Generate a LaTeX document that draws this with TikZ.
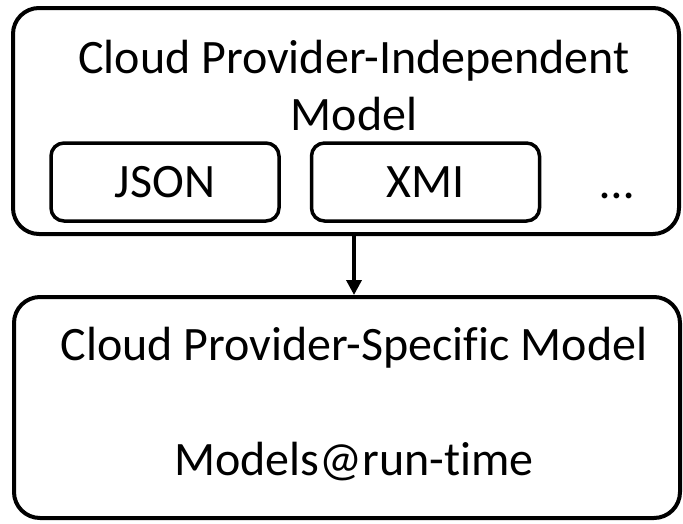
\documentclass[tikz,border=0pt]{standalone}
\usepackage{fontspec}
\setmainfont{Carlito}[Ligatures=NoCommon]
\usetikzlibrary{arrows.meta,positioning}
\tikzset{
    model/.style={
        rectangle,
        rounded corners=26pt,
        line width=4pt,
        draw=black,
        minimum width=666pt,
    },
    format/.style={
        rectangle,
        rounded corners=13pt,
        line width=3.5pt,
        draw=black,
        minimum width=228pt,
        minimum height=78pt,
    },
    label/.style={
        inner sep=0pt,
        anchor=base,
    },
}

\begin{document}
\begin{tikzpicture}[x=1pt,y=-1pt,font=\fontsize{48}{57}\selectfont,>={Triangle[length=15pt,width=15pt]}]
    \useasboundingbox (0,0) rectangle (683,523);
    % the two models
    \node [model,minimum height=226pt] (PIM) at (346,121) {};
    \node [model,minimum height=221pt] (PSM) at (347,407.5) {};
    % texts of the independent model
    \node [label,align=center] (PIMtitle) at (354,130) {Cloud Provider-Independent\\Model};
    \node [format] (JSON) at (165,182) {JSON};
    \node [format] (XMI) [right=29pt of JSON] {XMI};
    \node [label] (more) at (617,198) {…};
    % texts of the specific model
    \node [label] (PSMtitle) at (354,360) {Cloud Provider-Specific Model};
    \node [label] (runtime) at (354,475) {Models@run-time};
    \draw [->,line width=3.5pt] (PIM.south -| PSMtitle) -- (PSM.north -| PSMtitle);
\end{tikzpicture}
\end{document}
